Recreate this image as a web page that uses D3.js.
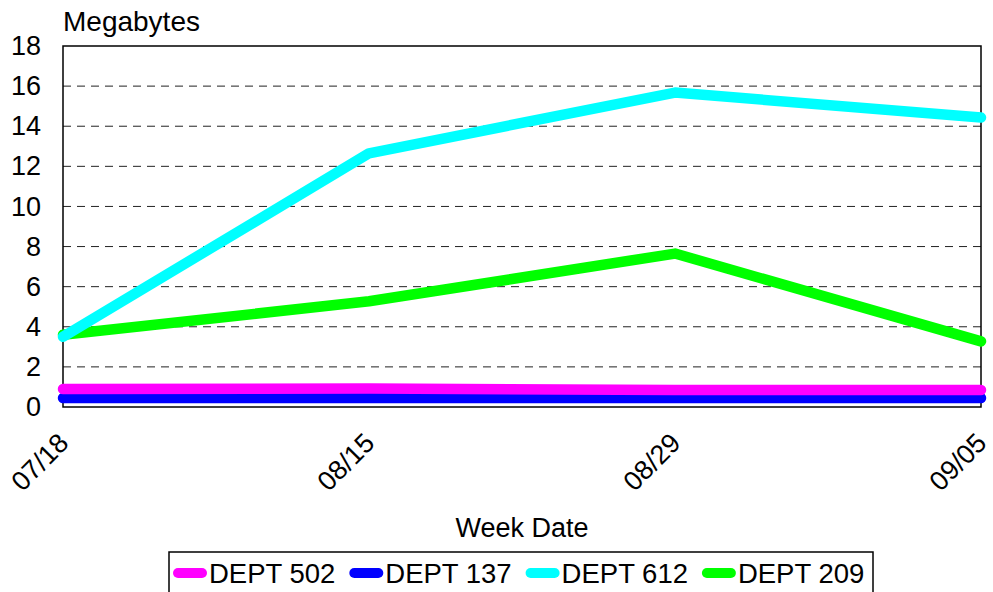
<!DOCTYPE html>
<html>
<head>
<meta charset="utf-8">
<script src="https://cdn.jsdelivr.net/npm/d3@7"></script>
<style>
  html, body { margin: 0; padding: 0; background: #fff; }
  svg { display: block; font-family: "Liberation Sans", Arial, Helvetica, sans-serif; }
</style>
</head>
<body>
<svg id="chart" width="993" height="592"></svg>
<script>
const weeks = ["07/18", "08/15", "08/29", "09/05"];
const dept502 = [0.9, 0.92, 0.85, 0.85];
const dept137 = [0.45, 0.45, 0.45, 0.45];
const dept612 = [3.5, 12.65, 15.68, 14.43];
const dept209 = [3.6, 5.27, 7.65, 3.27];
const seriesNames = ["DEPT 502", "DEPT 137", "DEPT 612", "DEPT 209"];
const seriesColors = ["#ff00ff", "#0000ff", "#00ffff", "#00ff00"];
const yTicks = [0, 2, 4, 6, 8, 10, 12, 14, 16, 18];

const series = [dept502, dept137, dept612, dept209].map((v, i) => ({
  name: seriesNames[i], color: seriesColors[i], values: v
}));

const svg = d3.select("#chart");
const m = { left: 63, right: 981, top: 46, bottom: 407 };

const x = d3.scalePoint().domain(weeks).range([m.left, m.right]);
const y = d3.scaleLinear().domain([0, 18]).range([m.bottom, m.top]);

// gridlines
svg.append("g")
  .selectAll("line")
  .data(yTicks.filter(t => t > 0 && t < 18))
  .join("line")
  .attr("x1", m.left).attr("x2", m.right)
  .attr("y1", d => y(d)).attr("y2", d => y(d))
  .attr("stroke", "#222").attr("stroke-width", 1)
  .attr("stroke-dasharray", "8,6");

// frame
svg.append("rect")
  .attr("x", m.left).attr("y", m.top)
  .attr("width", m.right - m.left).attr("height", m.bottom - m.top)
  .attr("fill", "none").attr("stroke", "#000").attr("stroke-width", 1.5);

// y axis
const yAxis = d3.axisLeft(y).tickValues(yTicks).tickSize(0).tickPadding(22);
const gy = svg.append("g").attr("transform", `translate(${m.left},0)`).call(yAxis);
gy.select(".domain").remove();
gy.selectAll("text").attr("font-size", 27).attr("fill", "#000")
  .attr("font-family", "'Liberation Sans', Arial, sans-serif");

// x axis
const xAxis = d3.axisBottom(x).tickSize(0);
const gx = svg.append("g").attr("transform", `translate(0,${m.bottom})`).call(xAxis);
gx.select(".domain").remove();
gx.selectAll("text")
  .attr("font-size", 27).attr("fill", "#000")
  .attr("font-family", "'Liberation Sans', Arial, sans-serif")
  .attr("text-anchor", "end")
  .attr("x", 0).attr("y", 0).attr("dy", "0.35em")
  .attr("transform", "translate(0,31) rotate(-45)");

// titles
svg.append("text").attr("x", m.left).attr("y", 31)
  .attr("font-size", 28).text("Megabytes");
svg.append("text").attr("x", (m.left + m.right) / 2).attr("y", 537)
  .attr("text-anchor", "middle").attr("font-size", 27).text("Week Date");

// lines (reverse order so first series on top)
const line = d3.line().x((d, i) => x(weeks[i])).y(d => y(d));
svg.append("g").selectAll("path")
  .data(series.slice().reverse())
  .join("path")
  .attr("d", d => line(d.values))
  .attr("fill", "none")
  .attr("stroke", d => d.color)
  .attr("stroke-width", 10.5)
  .attr("stroke-linecap", "round")
  .attr("stroke-linejoin", "round");

// legend
const lg = svg.append("g");
lg.append("rect").attr("x", 169).attr("y", 552).attr("width", 704).attr("height", 60)
  .attr("fill", "#fff").attr("stroke", "#000").attr("stroke-width", 1.5);
const itemW = 176.3;
const items = lg.selectAll("g.item").data(series).join("g")
  .attr("class", "item")
  .attr("transform", (d, i) => `translate(${178 + i * itemW},573)`);
items.append("line").attr("x1", 0).attr("x2", 24).attr("y1", 0).attr("y2", 0)
  .attr("stroke", d => d.color).attr("stroke-width", 10).attr("stroke-linecap", "round");
items.append("text").attr("x", 31).attr("y", 9.5)
  .attr("font-size", 27.5).text(d => d.name);
</script>
</body>
</html>
